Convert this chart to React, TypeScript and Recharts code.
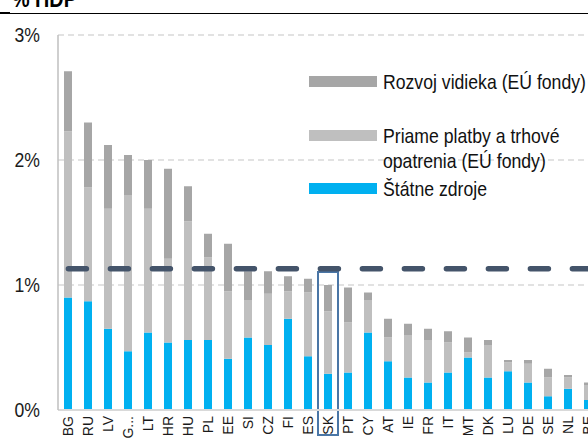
import React from "react";
import { Bar, BarChart, CartesianGrid, Legend, ReferenceArea, ReferenceLine, XAxis, YAxis } from "recharts";

const countries = ["BG", "RU", "LV", "G...", "LT", "HR", "HU", "PL", "EE", "SI", "CZ", "FI", "ES", "SK", "PT", "CY", "AT", "IE", "FR", "IT", "MT", "DK", "LU", "DE", "SE", "NL", "BE"];
const statne = [0.9, 0.87, 0.65, 0.47, 0.62, 0.54, 0.56, 0.56, 0.41, 0.58, 0.52, 0.73, 0.43, 0.29, 0.3, 0.62, 0.39, 0.26, 0.22, 0.3, 0.42, 0.26, 0.31, 0.22, 0.11, 0.17, 0.08];
const priame = [1.33, 0.91, 0.96, 1.25, 0.99, 0.67, 0.95, 0.66, 0.54, 0.3, 0.41, 0.22, 0.51, 0.5, 0.4, 0.26, 0.19, 0.34, 0.34, 0.24, 0.04, 0.26, 0.07, 0.15, 0.15, 0.09, 0.12];
const rozvoj = [0.48, 0.52, 0.51, 0.32, 0.39, 0.72, 0.28, 0.19, 0.38, 0.23, 0.18, 0.12, 0.11, 0.21, 0.28, 0.06, 0.15, 0.09, 0.09, 0.09, 0.12, 0.04, 0.02, 0.03, 0.07, 0.02, 0.02];
const yTicks = [0, 1, 2, 3];
const priemer = 1.13;
const highlighted = "SK";

const seriesNames = ["Štátne zdroje", "Priame platby a trhové\nopatrenia (EÚ fondy)", "Rozvoj vidieka (EÚ fondy)"];
// legend goes top-down: rozvoj, priame, statne
const legendOrder = ["rozvoj", "priame", "statne"];
const legendTops = [69, 123, 176];

const data = countries.map((c, i) => ({ country: c, statne: statne[i], priame: priame[i], rozvoj: rozvoj[i] }));

const FONT = "'Liberation Sans', Arial, sans-serif";

function YTick({ x, y, payload }: any) {
  return (
    <text transform={`translate(${x},${y}) scale(0.84,1)`} textAnchor="end" dy="0.355em" fontSize={21} fontFamily={FONT} fill="#1a1a1a">
      {payload.value}%
    </text>
  );
}

function XTick({ x, y, payload }: any) {
  return (
    <g transform={`translate(${x},${y})`}>
      <text transform="rotate(-90)" x={-6} textAnchor="end" dy="0.36em" fontSize={14} fontFamily={FONT} fill="#1a1a1a">
        {payload.value}
      </text>
    </g>
  );
}

function LegendBox({ payload }: any) {
  const list = payload || [];
  const items = legendOrder.map((k) => list.find((p: any) => p.dataKey === k)).filter(Boolean);
  return (
    <div style={{ position: "relative", width: 588, height: 445, fontFamily: FONT, color: "#111" }}>
      {items.map((it: any, i: number) => (
        <div key={it.dataKey} style={{ position: "absolute", top: legendTops[i], left: 309 }}>
          <div style={{ position: "absolute", top: 7, left: 0, width: 68, height: 11, background: it.color }} />
          <div
            style={{
              position: "absolute",
              left: 74,
              top: 0,
              fontSize: 21,
              lineHeight: "25px",
              whiteSpace: "pre",
              transform: "scaleX(0.84)",
              transformOrigin: "left top",
            }}
          >
            {it.value}
          </div>
        </div>
      ))}
    </div>
  );
}

export default function App() {
  return (
    <div style={{ position: "fixed", top: 0, left: 0, width: 588, height: 445, overflow: "hidden", background: "#fff" }}>
      <div
        style={{
          position: "absolute",
          left: 12,
          top: -14,
          fontFamily: FONT,
          fontWeight: "bold",
          fontSize: 23,
          lineHeight: "26px",
          transform: "scaleX(0.86)",
          transformOrigin: "left top",
          whiteSpace: "nowrap",
        }}
      >
        % HDP
      </div>
      <div style={{ position: "absolute", left: 0, top: 13, width: 588, height: 1, background: "#000" }} />
      <div style={{ position: "absolute", left: 0, top: 12, width: 10, height: 2, background: "#000" }} />
      <div style={{ position: "absolute", left: 0, top: 0 }}>
        <BarChart width={600} height={445} data={data} margin={{ top: 35, right: 2, left: 0, bottom: 0 }} barSize={8}>
          <CartesianGrid vertical={false} stroke="#d9d9d9" strokeWidth={1.5} strokeDasharray="6 4" />
          <XAxis
            dataKey="country"
            interval={0}
            height={35}
            tickSize={0}
            tickMargin={0}
            tick={<XTick />}
            axisLine={{ stroke: "#d9d9d9", strokeWidth: 2 }}
            tickLine={false}
          />
          <YAxis
            width={58}
            domain={[0, 3]}
            ticks={yTicks}
            allowDataOverflow
            tickSize={0}
            tickMargin={18}
            tick={<YTick />}
            axisLine={{ stroke: "#bfbfbf", strokeWidth: 1.5 }}
            tickLine={false}
          />
          <Bar dataKey="statne" name={seriesNames[0]} stackId="a" fill="#00b0f0" isAnimationActive={false} />
          <Bar dataKey="priame" name={seriesNames[1]} stackId="a" fill="#bfbfbf" isAnimationActive={false} />
          <Bar dataKey="rozvoj" name={seriesNames[2]} stackId="a" fill="#a6a6a6" isAnimationActive={false} />
          <ReferenceArea
            x1={highlighted}
            x2={highlighted}
            y1={-0.2}
            y2={1.105}
            ifOverflow="visible"
            fill="none"
            fillOpacity={0}
            stroke="#4a76a6"
            strokeWidth={2}
          />
          <ReferenceLine
            y={priemer}
            stroke="#44546a"
            strokeWidth={5.5}
            strokeLinecap="round"
            strokeDasharray="18 24"
            strokeDashoffset={31.6}
          />
          <Legend
            layout="vertical"
            align="center"
            verticalAlign="middle"
            content={<LegendBox />}
            wrapperStyle={{ position: "absolute", top: 0, left: 0, width: 588, height: 445, pointerEvents: "none" }}
          />
        </BarChart>
      </div>
    </div>
  );
}
